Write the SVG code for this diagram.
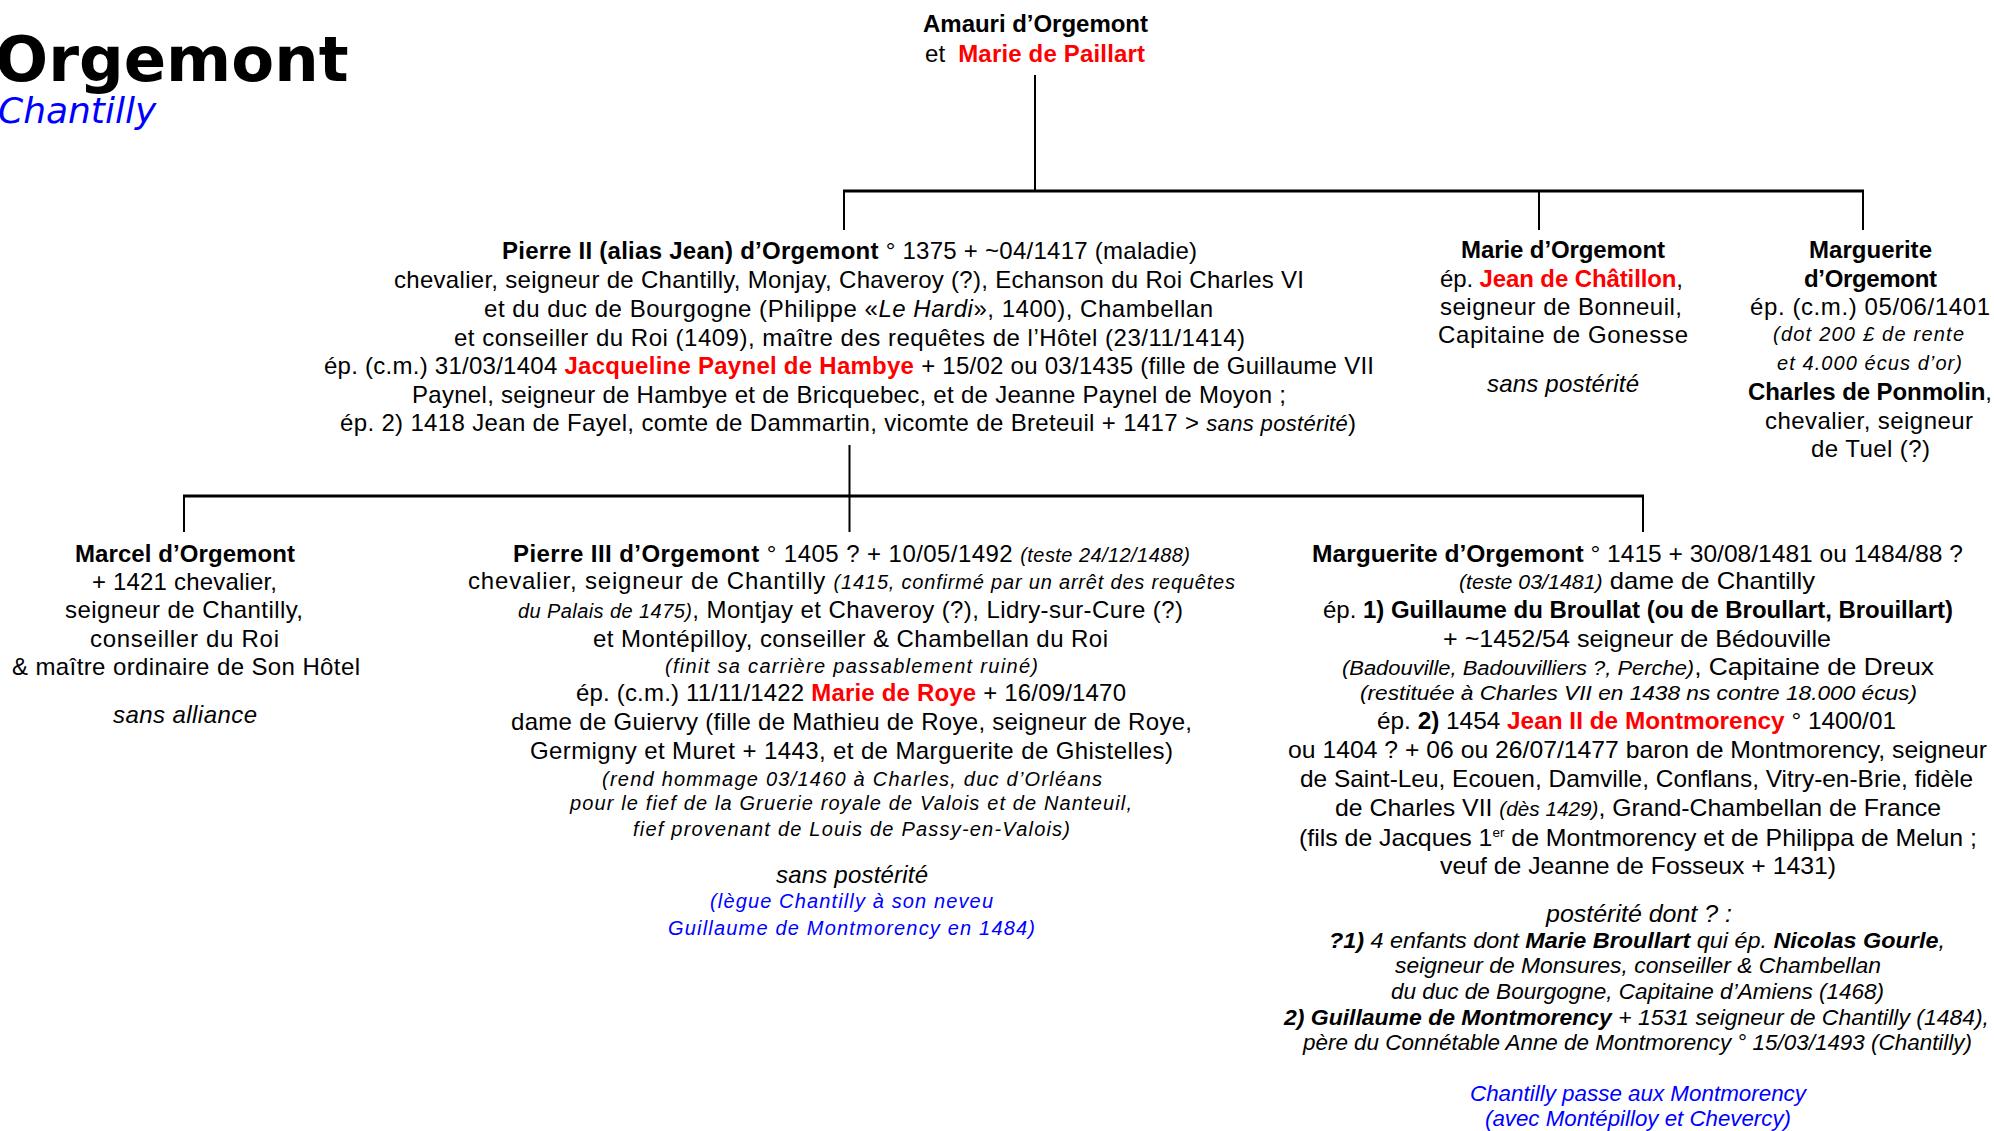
<svg xmlns="http://www.w3.org/2000/svg" width="1994" height="1131" viewBox="0 0 1994 1131">
<style>
text{font-family:"Liberation Sans",Arial,sans-serif;font-size:24px;fill:#000}
.b{font-weight:bold}
.i{font-style:italic}
.s{font-size:20px}
.m{font-size:22px}
.r{fill:#ff0000;font-weight:bold}
.bl{fill:#0000ff}
.ln{stroke:#000;stroke-width:2;fill:none}
.hz{stroke:#000;stroke-width:3;fill:none}
</style>
<rect width="1994" height="1131" fill="#fff"/>
<g id="title">
<text x="-5" y="81" style="font-family:'DejaVu Sans',Verdana,sans-serif;font-weight:bold;font-size:62.5px">Orgemont</text>
<text x="-2" y="123" style="font-family:'DejaVu Sans',Verdana,sans-serif;font-style:italic;font-size:36px;fill:#0000ff">Chantilly</text>
</g>
<g id="connectors">
<path class="ln" d="M1035 75V191M844 191V230M1539 191V230M1863 191V230"/>
<path class="hz" d="M843 191H1864"/>
<path class="ln" d="M849.5 445V496M184 496V532M849.5 496V532M1643 496V532"/>
<path class="hz" d="M183 496H1644"/>
</g>
<g id="amauri">
<text x="923" y="32" textLength="225" class="b">Amauri d’Orgemont</text>
<text x="925" y="62" textLength="220">et <tspan class="r" dx="6">Marie de Paillart</tspan></text>
</g>
<g id="pierre2">
<text x="502" y="259" textLength="695"><tspan class="b">Pierre II (alias Jean) d’Orgemont</tspan> ° 1375 + ~04/1417 (maladie)</text>
<text x="394" y="288" textLength="910">chevalier, seigneur de Chantilly, Monjay, Chaveroy (?), Echanson du Roi Charles VI</text>
<text x="484" y="317" textLength="729">et du duc de Bourgogne (Philippe «<tspan class="i">Le Hardi</tspan>», 1400), Chambellan</text>
<text x="454" y="346" textLength="791">et conseiller du Roi (1409), maître des requêtes de l’Hôtel (23/11/1414)</text>
<text x="324" y="374" textLength="1050">ép. (c.m.) 31/03/1404 <tspan class="r">Jacqueline Paynel de Hambye</tspan> + 15/02 ou 03/1435 (fille de Guillaume VII</text>
<text x="412" y="403" textLength="874">Paynel, seigneur de Hambye et de Bricquebec, et de Jeanne Paynel de Moyon ;</text>
<text x="340" y="431" textLength="1016">ép. 2) 1418 Jean de Fayel, comte de Dammartin, vicomte de Breteuil + 1417 &gt; <tspan class="i m">sans postérité</tspan>)</text>
</g>
<g id="marie">
<text x="1461" y="258" textLength="204" class="b">Marie d’Orgemont</text>
<text x="1440" y="287" textLength="243">ép. <tspan class="r">Jean de Châtillon</tspan>,</text>
<text x="1440" y="315" textLength="242">seigneur de Bonneuil,</text>
<text x="1438" y="343" textLength="250">Capitaine de Gonesse</text>
<text x="1487" y="392" textLength="152" class="i">sans postérité</text>
</g>
<g id="marguerite1">
<text x="1809" y="258" textLength="123" class="b">Marguerite</text>
<text x="1804" y="287" textLength="133" class="b">d’Orgemont</text>
<text x="1750" y="315" textLength="240">ép. (c.m.) 05/06/1401</text>
<text x="1773" y="341" textLength="191" class="i s">(dot 200 £ de rente</text>
<text x="1777" y="370" textLength="185" class="i s">et 4.000 écus d’or)</text>
<text x="1748" y="400" textLength="244"><tspan class="b">Charles de Ponmolin</tspan>,</text>
<text x="1765" y="429" textLength="208">chevalier, seigneur</text>
<text x="1811" y="457" textLength="119">de Tuel (?)</text>
</g>
<g id="marcel">
<text x="75" y="562" textLength="220" class="b">Marcel d’Orgemont</text>
<text x="92" y="590" textLength="185">+ 1421 chevalier,</text>
<text x="65" y="618" textLength="238">seigneur de Chantilly,</text>
<text x="90" y="647" textLength="189">conseiller du Roi</text>
<text x="12" y="675" textLength="348">&amp; maître ordinaire de Son Hôtel</text>
<text x="113" y="723" textLength="144" class="i">sans alliance</text>
</g>
<g id="pierre3">
<text x="513" y="562" textLength="677"><tspan class="b">Pierre III d’Orgemont</tspan> ° 1405 ? + 10/05/1492 <tspan class="i s">(teste 24/12/1488)</tspan></text>
<text x="468" y="589" textLength="767">chevalier, seigneur de Chantilly <tspan class="i s">(1415, confirmé par un arrêt des requêtes</tspan></text>
<text x="518" y="618" textLength="665"><tspan class="i s">du Palais de 1475)</tspan>, Montjay et Chaveroy (?), Lidry-sur-Cure (?)</text>
<text x="593" y="647" textLength="515">et Montépilloy, conseiller &amp; Chambellan du Roi</text>
<text x="665" y="673" textLength="373" class="i s">(finit sa carrière passablement ruiné)</text>
<text x="576" y="701" textLength="550">ép. (c.m.) 11/11/1422 <tspan class="r">Marie de Roye</tspan> + 16/09/1470</text>
<text x="511" y="730" textLength="681">dame de Guiervy (fille de Mathieu de Roye, seigneur de Roye,</text>
<text x="530" y="759" textLength="643">Germigny et  Muret + 1443, et de Marguerite de Ghistelles)</text>
<text x="602" y="786" textLength="500" class="i s">(rend hommage 03/1460 à Charles, duc d’Orléans</text>
<text x="570" y="810" textLength="562" class="i s">pour le fief de la Gruerie royale de Valois et de Nanteuil,</text>
<text x="633" y="836" textLength="437" class="i s">fief provenant de Louis de Passy-en-Valois)</text>
<text x="776" y="883" textLength="152" class="i">sans postérité</text>
<text x="710" y="908" textLength="283" class="i s bl">(lègue Chantilly à son neveu</text>
<text x="668" y="935" textLength="367" class="i s bl">Guillaume de Montmorency en 1484)</text>
</g>
<g id="marguerite2">
<text x="1312" y="562" textLength="651" lengthAdjust="spacingAndGlyphs"><tspan class="b">Marguerite d’Orgemont</tspan> ° 1415 + 30/08/1481 ou 1484/88 ?</text>
<text x="1459" y="589" textLength="356" lengthAdjust="spacingAndGlyphs"><tspan class="i s">(teste 03/1481)</tspan> dame de Chantilly</text>
<text x="1323" y="618" textLength="630" lengthAdjust="spacingAndGlyphs">ép. <tspan class="b">1)  Guillaume du Broullat (ou de Broullart, Brouillart)</tspan></text>
<text x="1443" y="647" textLength="388" lengthAdjust="spacingAndGlyphs">+ ~1452/54 seigneur de Bédouville</text>
<text x="1342" y="675" textLength="592" lengthAdjust="spacingAndGlyphs"><tspan class="i s">(Badouville, Badouvilliers ?, Perche)</tspan>, Capitaine de Dreux</text>
<text x="1360" y="700" textLength="557" lengthAdjust="spacingAndGlyphs" class="i s">(restituée à Charles VII en 1438 ns contre 18.000 écus)</text>
<text x="1377" y="729" textLength="519" lengthAdjust="spacingAndGlyphs">ép. <tspan class="b">2)</tspan> 1454 <tspan class="r">Jean II de Montmorency</tspan> ° 1400/01</text>
<text x="1288" y="758" textLength="699" lengthAdjust="spacingAndGlyphs">ou 1404 ? + 06 ou 26/07/1477 baron de Montmorency, seigneur</text>
<text x="1300" y="787" textLength="673" lengthAdjust="spacingAndGlyphs">de Saint-Leu, Ecouen, Damville, Conflans, Vitry-en-Brie, fidèle</text>
<text x="1335" y="816" textLength="606" lengthAdjust="spacingAndGlyphs">de Charles VII <tspan class="i s">(dès 1429)</tspan>, Grand-Chambellan de France</text>
<text x="1299" y="846" textLength="678" lengthAdjust="spacingAndGlyphs">(fils de Jacques 1<tspan style="font-size:13px" dy="-9">er</tspan><tspan dy="9"> de Montmorency et de Philippa de Melun ;</tspan></text>
<text x="1440" y="874" textLength="396" lengthAdjust="spacingAndGlyphs">veuf de Jeanne de Fosseux + 1431)</text>
<text x="1546" y="922" textLength="186" lengthAdjust="spacingAndGlyphs" class="i">postérité dont ? :</text>
<text x="1329" y="948" textLength="616" lengthAdjust="spacingAndGlyphs" class="i m"><tspan class="b">?1)</tspan> 4 enfants dont <tspan class="b">Marie Broullart</tspan> qui ép. <tspan class="b">Nicolas Gourle</tspan>,</text>
<text x="1395" y="973" textLength="486" lengthAdjust="spacingAndGlyphs" class="i m">seigneur de Monsures, conseiller &amp; Chambellan</text>
<text x="1391" y="999" textLength="493" lengthAdjust="spacingAndGlyphs" class="i m">du duc de Bourgogne, Capitaine d’Amiens (1468)</text>
<text x="1284" y="1025" textLength="705" lengthAdjust="spacingAndGlyphs" class="i m"><tspan class="b">2) Guillaume de Montmorency</tspan> + 1531 seigneur de Chantilly (1484),</text>
<text x="1303" y="1050" textLength="669" lengthAdjust="spacingAndGlyphs" class="i m">père du Connétable Anne de Montmorency ° 15/03/1493 (Chantilly)</text>
<text x="1470" y="1101" textLength="336" lengthAdjust="spacingAndGlyphs" class="i m bl">Chantilly passe aux Montmorency</text>
<text x="1485" y="1126" textLength="306" lengthAdjust="spacingAndGlyphs" class="i m bl">(avec Montépilloy et Chevercy)</text>
</g>
</svg>
